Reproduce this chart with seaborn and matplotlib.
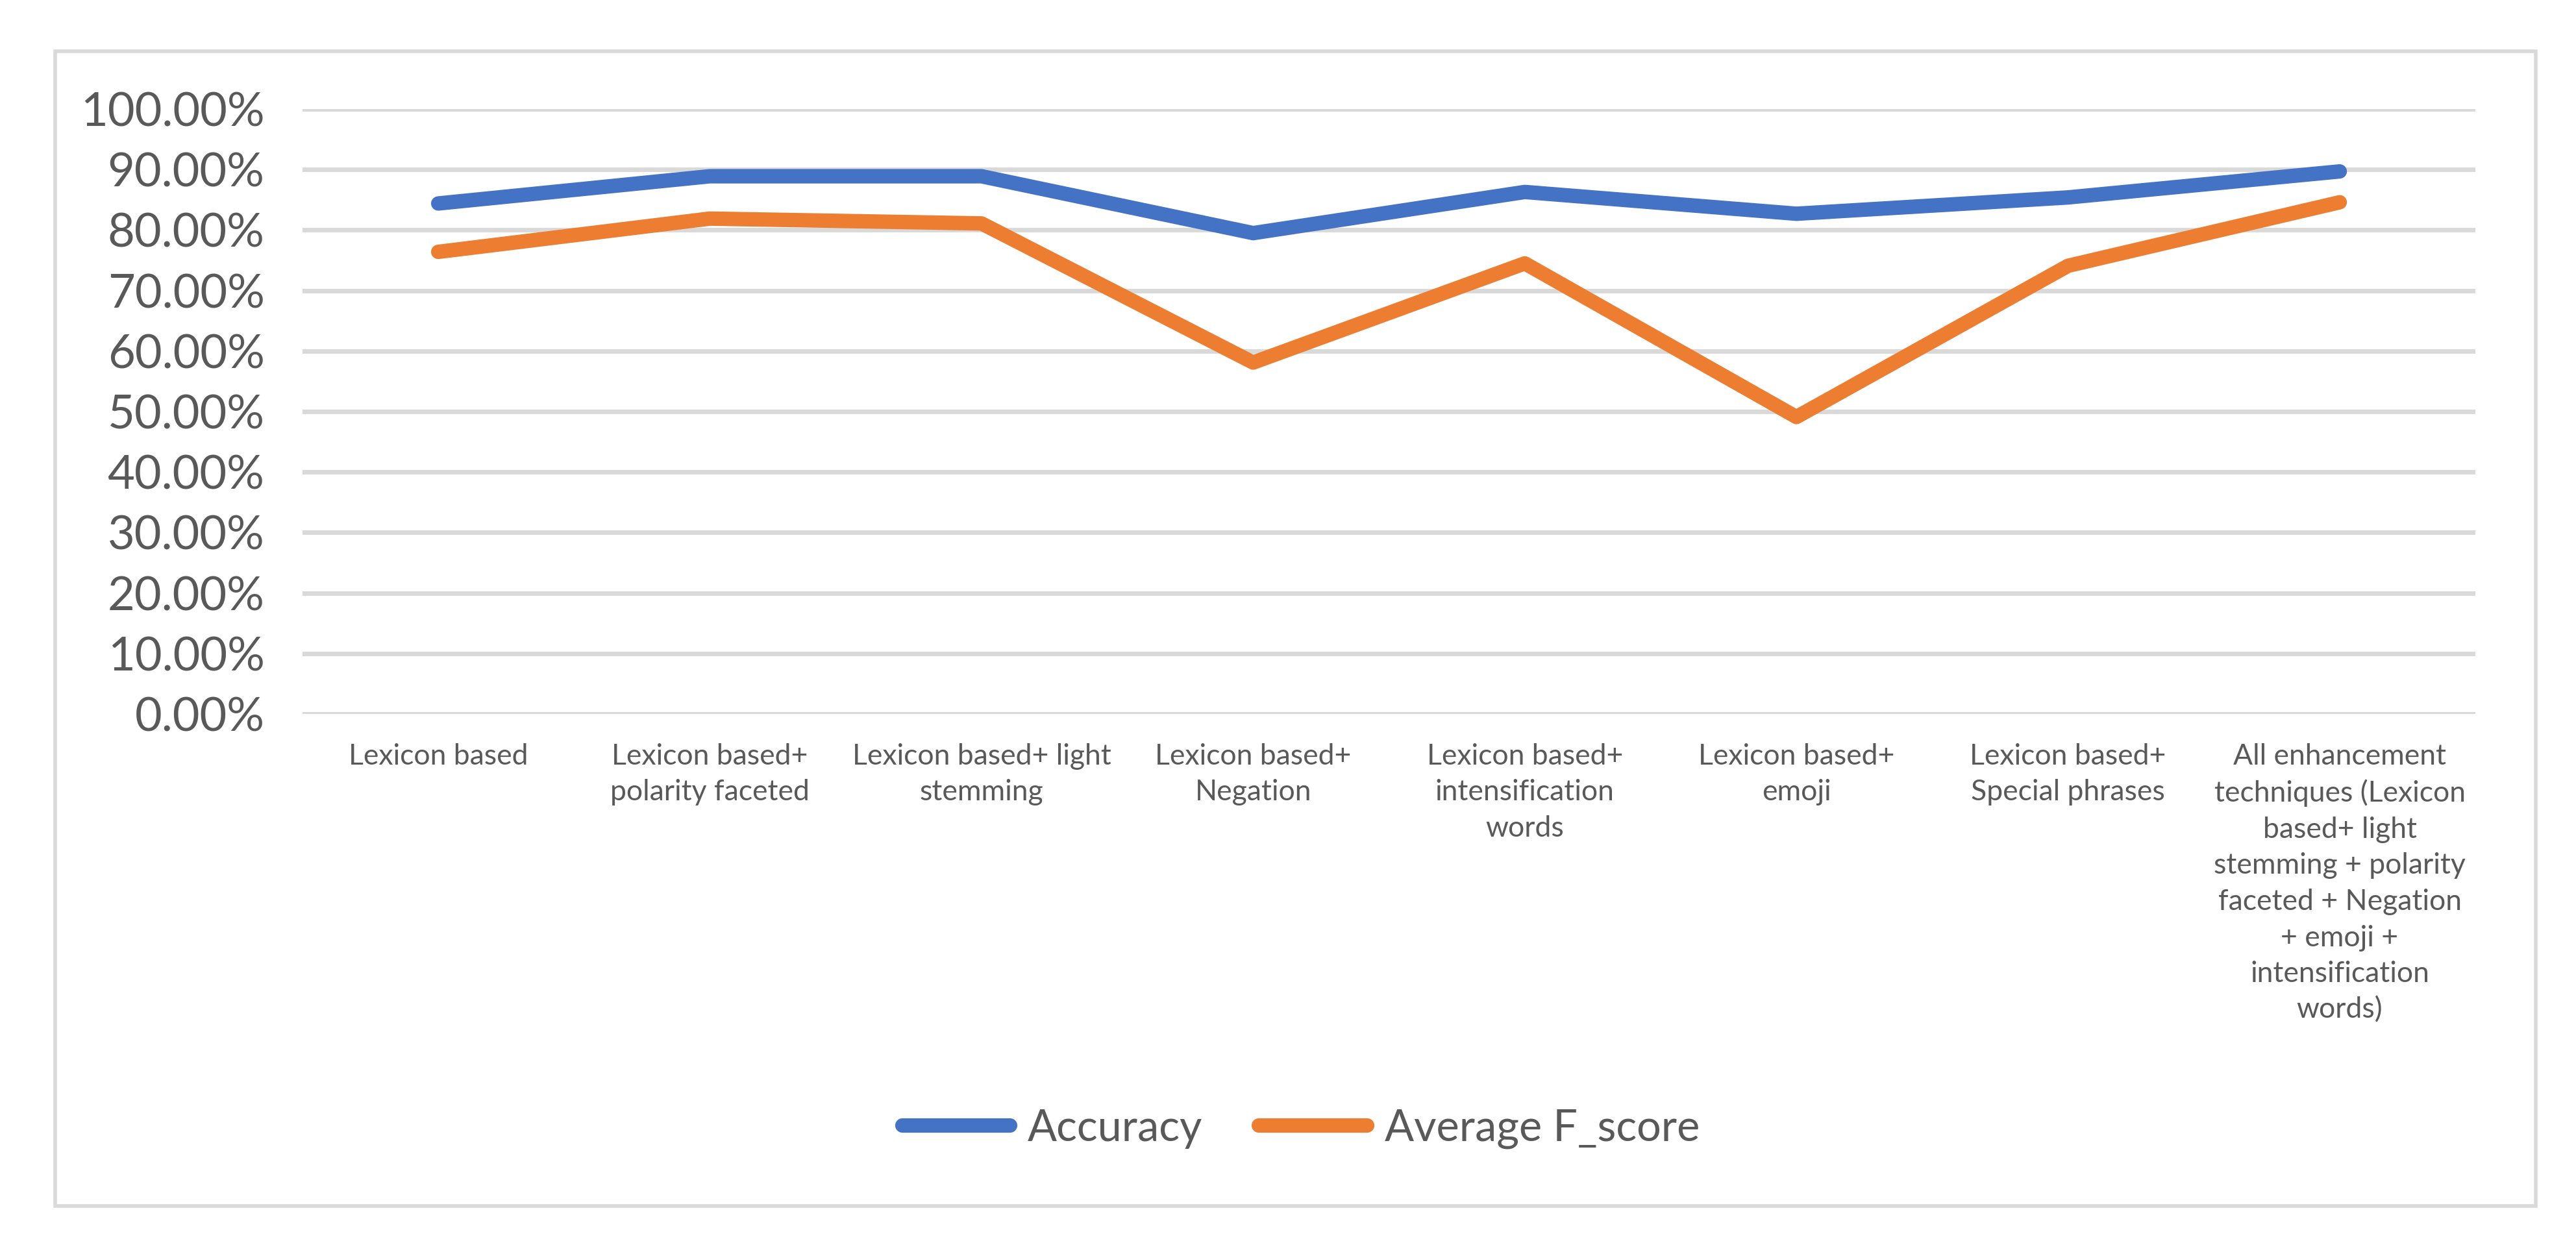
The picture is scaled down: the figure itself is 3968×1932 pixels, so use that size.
import matplotlib
matplotlib.use("Agg")
import matplotlib.pyplot as plt
import matplotlib.patches as mpatches
import pandas as pd
import seaborn as sns

# Values
categories = [
    "Lexicon based",
    "Lexicon based+\npolarity faceted",
    "Lexicon based+ light\nstemming",
    "Lexicon based+\nNegation",
    "Lexicon based+\nintensification\nwords",
    "Lexicon based+\nemoji",
    "Lexicon based+\nSpecial phrases",
    "All enhancement\ntechniques (Lexicon\nbased+ light\nstemming + polarity\nfaceted + Negation\n+ emoji +\nintensification\nwords)",
]
accuracy = [84.4, 88.9, 88.9, 79.5, 86.3, 82.7, 85.4, 89.7]
f_score = [76.4, 81.9, 81.1, 58.1, 74.5, 49.1, 74.1, 84.6]
series_names = ["Accuracy", "Average F_score"]
series_colors = ["#4472C4", "#ED7D31"]

df = pd.DataFrame({
    "pos": list(range(len(categories))) * 2,
    "value": accuracy + f_score,
    "series": [series_names[0]] * len(categories) + [series_names[1]] * len(categories),
})

sns.set_style("white")
plt.rcParams["font.family"] = ["Lato", "DejaVu Sans"]
text_color = "#595959"
grid_color = "#D9D9D9"

fig = plt.figure(figsize=(19.84, 9.66), dpi=200)
ax = fig.add_axes([0.1174, 0.4306, 0.9610 - 0.1174, 0.913 - 0.4306])

sns.lineplot(data=df, x="pos", y="value", hue="series", palette=series_colors,
             linewidth=8, ax=ax, legend=False, solid_capstyle="round")

ax.set_xlim(-0.5, len(categories) - 0.5)
ax.set_ylim(0, 100)
ax.set_yticks(range(0, 101, 10))
ax.set_yticklabels([f"{v:.2f}%" for v in range(0, 101, 10)], fontsize=26, color=text_color)
ax.set_xticks(range(len(categories)))
ax.set_xticklabels(categories, fontsize=16, color=text_color, linespacing=1.44, va="top")
ax.tick_params(axis="y", length=0, pad=21)
ax.tick_params(axis="x", length=0, pad=16)
ax.set_xlabel("")
ax.set_ylabel("")
ax.yaxis.grid(True, color=grid_color, linewidth=2.5)
ax.set_axisbelow(True)
for s in ax.spines.values():
    s.set_visible(False)

# outer chart border
fig.patches.append(mpatches.Rectangle((0.0214, 0.0383), 0.9844 - 0.0214, 0.959 - 0.0383,
                                      transform=fig.transFigure, fill=False,
                                      edgecolor=grid_color, linewidth=2))

handles = [plt.Line2D([], [], color=c, linewidth=8, solid_capstyle="round") for c in series_colors]
leg = fig.legend(handles, series_names, loc="center", bbox_to_anchor=(0.505, 0.1),
                 ncol=2, frameon=False, fontsize=24, handlelength=2.5,
                 handletextpad=0.4, columnspacing=1.3)
for t in leg.get_texts():
    t.set_color(text_color)

fig.savefig("out.png", dpi=200, facecolor="white")
